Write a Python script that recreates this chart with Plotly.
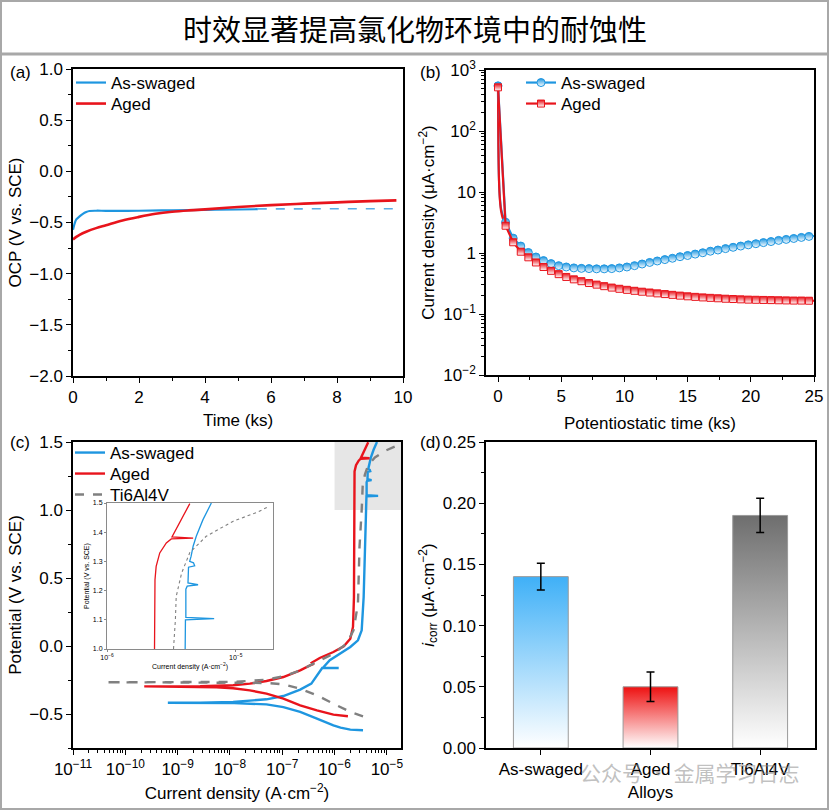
import plotly.graph_objects as go

FONT = "Arial, Liberation Sans, sans-serif"
BLUE = "#1e96e0"
BLUE_L = "#5aaee6"
RED = "#e8141c"
GRAY = "#808080"

# ---------------- (a) OCP ----------------
ocp_sw_time = [0, 0.05, 0.1, 0.2, 0.3, 0.4, 0.5, 0.7, 1.0, 2.0, 3.0, 4.0, 5.0, 5.6]
ocp_sw = [-0.57, -0.51, -0.47, -0.44, -0.415, -0.398, -0.388, -0.385, -0.386, -0.385,
          -0.381, -0.377, -0.373, -0.370]
ocp_sw_dash_time = [5.6, 9.8]
ocp_sw_dash = [-0.367, -0.365]
ocp_aged_time = [0, 0.1, 0.2, 0.4, 0.7, 1.0, 1.5, 2.0, 2.5, 3.0, 3.5, 4.0, 5.0, 6.0,
                 7.0, 8.0, 9.0, 9.8]
ocp_aged = [-0.665, -0.64, -0.62, -0.59, -0.555, -0.527, -0.48, -0.445, -0.415, -0.395,
            -0.382, -0.372, -0.348, -0.330, -0.316, -0.303, -0.291, -0.284]

# ---------------- (b) potentiostatic ----------------
pt_time = [0, 0.6, 1.2, 1.8, 2.4, 3.0, 3.6, 4.2, 4.8, 5.4, 6.0, 6.6, 7.2, 7.8, 8.4, 9.0,
           9.6, 10.2, 10.8, 11.4, 12.0, 12.6, 13.2, 13.8, 14.4, 15.0, 15.6, 16.2, 16.8,
           17.4, 18.0, 18.6, 19.2, 19.8, 20.4, 21.0, 21.6, 22.2, 22.8, 23.4, 24.0, 24.6]
pt_sw = [550, 3.2, 1.75, 1.3, 1.02, 0.86, 0.75, 0.67, 0.62, 0.59, 0.57, 0.56, 0.555, 0.55,
         0.55, 0.555, 0.57, 0.59, 0.62, 0.66, 0.70, 0.74, 0.78, 0.82, 0.87, 0.91, 0.96,
         1.01, 1.07, 1.12, 1.18, 1.24, 1.30, 1.36, 1.42, 1.48, 1.54, 1.61, 1.67, 1.73,
         1.80, 1.87]
pt_aged = [520, 2.8, 1.5, 1.05, 0.85, 0.70, 0.59, 0.51, 0.45, 0.405, 0.37, 0.345, 0.322,
           0.303, 0.286, 0.271, 0.259, 0.249, 0.240, 0.232, 0.225, 0.218, 0.212, 0.206,
           0.200, 0.195, 0.191, 0.187, 0.184, 0.181, 0.178, 0.176, 0.174, 0.172, 0.171,
           0.170, 0.169, 0.168, 0.167, 0.166, 0.166, 0.165]
pt_early_time = [0, 0.03, 0.08, 0.15, 0.25, 0.4, 0.6]
pt_early_sw = [550, 60, 16, 8, 5.2, 4.0, 3.2]
pt_early_aged = [520, 55, 15, 7.5, 4.8, 3.6, 2.8]
pt_end_time = [24.6, 25.0]
pt_end_sw = [1.87, 1.90]
pt_end_aged = [0.165, 0.165]

# ---------------- (c) polarization ----------------
pol_sw_E = [-0.620, -0.615, -0.600, -0.583, -0.534, -0.485, -0.449, -0.429, -0.420, -0.418,
            -0.417, -0.416, -0.412, -0.392, -0.368, -0.321, -0.277, -0.216, -0.162, -0.162,
            -0.160, -0.105, -0.056, -0.007, 0.042, 0.115, 0.36, 0.80, 1.0, 1.100, 1.104,
            1.108, 1.205, 1.215, 1.220, 1.226, 1.280, 1.285, 1.295, 1.300, 1.317, 1.352,
            1.386, 1.443, 1.500]
pol_sw_i = [3.5e-6, 2.0e-6, 1.3e-6, 9.5e-7, 4.6e-7, 2.2e-7, 1.05e-7, 5.0e-8, 1.2e-8, 2.7e-9,
            6.5e-10, 2.7e-9, 1.15e-8, 5.0e-8, 1.05e-7, 2.2e-7, 3.6e-7, 4.6e-7, 5.8e-7, 1.2e-6,
            6.0e-7, 8.1e-7, 1.26e-6, 2.0e-6, 2.8e-6, 3.3e-6, 3.6e-6, 3.85e-6, 4.05e-6, 4.07e-6,
            6.8e-6, 4.1e-6, 4.1e-6, 4.2e-6, 5.1e-6, 4.26e-6, 4.3e-6, 4.8e-6, 4.7e-6, 4.39e-6,
            4.5e-6, 4.67e-6, 4.94e-6, 5.57e-6, 6.47e-6]
pol_aged_E = [-0.517, -0.505, -0.473, -0.436, -0.387, -0.350, -0.326, -0.311, -0.304, -0.299,
              -0.297, -0.296, -0.289, -0.277, -0.257, -0.228, -0.179, -0.142, -0.132, -0.122,
              -0.088, -0.044, -0.002, 0.054, 0.14, 0.36, 0.85, 1.0, 1.237, 1.283, 1.329,
              1.363, 1.377, 1.380, 1.384, 1.498]
pol_aged_i = [1.8e-6, 9.5e-7, 4.6e-7, 2.2e-7, 1.05e-7, 5.0e-8, 2.4e-8, 1.15e-8, 5.5e-9, 1.3e-9,
              2.3e-10, 2.7e-9, 1.15e-8, 2.4e-8, 5.0e-8, 1.05e-7, 2.2e-7, 3.4e-7, 4.0e-7, 3.7e-7,
              5.2e-7, 9.5e-7, 1.5e-6, 2.0e-6, 2.25e-6, 2.35e-6, 2.38e-6, 2.34e-6, 2.36e-6,
              2.41e-6, 2.57e-6, 2.89e-6, 3.16e-6, 4.67e-6, 3.2e-6, 4.4e-6]
pol_ti_E = [-0.517, -0.485, -0.424, -0.363, -0.314, -0.282, -0.272, -0.269, -0.268, -0.267,
            -0.266, -0.264, -0.248, -0.223, -0.179, -0.118, -0.056, 0.017, 0.115, 0.31, 0.73,
            1.0, 1.10, 1.18, 1.26, 1.33, 1.386, 1.437, 1.47, 1.488]
pol_ti_i = [3.5e-6, 2.0e-6, 9.5e-7, 4.6e-7, 2.2e-7, 1.05e-7, 5.0e-8, 1.15e-8, 1.0e-9, 4.1e-11,
            1.0e-9, 1.15e-8, 5.0e-8, 1.05e-7, 2.2e-7, 4.6e-7, 9.5e-7, 1.7e-6, 2.3e-6, 2.8e-6,
            3.0e-6, 3.3e-6, 3.4e-6, 3.45e-6, 3.8e-6, 4.4e-6, 5.9e-6, 9.5e-6, 1.5e-5, 1.8e-5]

# ---------------- (d) icorr ----------------
alloys = ["As-swaged", "Aged", "Ti6Al4V"]
icorr = [0.14, 0.05, 0.19]
icorr_err = [0.011, 0.012, 0.014]
bar_colors = ["#3fb0f7", "#ee1111", "#6e6e6e"]

fig = go.Figure()

# (a)
fig.add_trace(go.Scatter(x=ocp_sw_time, y=ocp_sw, mode="lines", name="As-swaged",
                         line=dict(color=BLUE, width=2.2, shape="spline"),
                         xaxis="x", yaxis="y", legend="legend"))
fig.add_trace(go.Scatter(x=ocp_sw_dash_time, y=ocp_sw_dash, mode="lines", showlegend=False,
                         line=dict(color=BLUE_L, width=1.6, dash="dash"),
                         xaxis="x", yaxis="y"))
fig.add_trace(go.Scatter(x=ocp_aged_time, y=ocp_aged, mode="lines", name="Aged",
                         line=dict(color=RED, width=2.6, shape="spline"),
                         xaxis="x", yaxis="y", legend="legend4"))

# (b)
for et, ev, col in [(pt_early_time, pt_early_sw, BLUE), (pt_early_time, pt_early_aged, RED),
                    (pt_end_time, pt_end_sw, BLUE), (pt_end_time, pt_end_aged, RED)]:
    fig.add_trace(go.Scatter(x=et, y=ev, mode="lines", showlegend=False,
                             line=dict(color=col, width=2.2, shape="spline"),
                             xaxis="x2", yaxis="y2"))
fig.add_trace(go.Scatter(x=pt_time, y=pt_sw, mode="lines+markers", name="As-swaged",
                         line=dict(color=BLUE, width=2.2),
                         marker=dict(symbol="circle", size=8, color=BLUE,
                                     line=dict(color=BLUE, width=1),
                                     gradient=dict(type="vertical", color="white")),
                         xaxis="x2", yaxis="y2", legend="legend2"))
fig.add_trace(go.Scatter(x=pt_time, y=pt_aged, mode="lines+markers", name="Aged",
                         line=dict(color=RED, width=2.2),
                         marker=dict(symbol="square", size=7, color=RED,
                                     line=dict(color=RED, width=1),
                                     gradient=dict(type="vertical", color="white")),
                         xaxis="x2", yaxis="y2", legend="legend5"))

# (c) main
fig.add_trace(go.Scatter(x=pol_sw_i, y=pol_sw_E, mode="lines", name="As-swaged",
                         line=dict(color=BLUE, width=2.4), xaxis="x3", yaxis="y3",
                         legend="legend3"))
fig.add_trace(go.Scatter(x=pol_aged_i, y=pol_aged_E, mode="lines", name="Aged",
                         line=dict(color=RED, width=2.4), xaxis="x3", yaxis="y3",
                         legend="legend6"))
fig.add_trace(go.Scatter(x=pol_ti_i, y=pol_ti_E, mode="lines", name="Ti6Al4V",
                         line=dict(color=GRAY, width=2.4, dash="dash"), xaxis="x3",
                         yaxis="y3", legend="legend7"))
# (c) inset
fig.add_trace(go.Scatter(x=pol_sw_i, y=pol_sw_E, mode="lines", showlegend=False,
                         line=dict(color=BLUE, width=1.3), xaxis="x5", yaxis="y5"))
fig.add_trace(go.Scatter(x=pol_aged_i, y=pol_aged_E, mode="lines", showlegend=False,
                         line=dict(color=RED, width=1.3), xaxis="x5", yaxis="y5"))
fig.add_trace(go.Scatter(x=pol_ti_i, y=pol_ti_E, mode="lines", showlegend=False,
                         line=dict(color=GRAY, width=1.1, dash="dot"), xaxis="x5",
                         yaxis="y5"))

# (d) bars with vertical gradient
half = 0.25
for k, (name, v, col) in enumerate(zip(alloys, icorr, bar_colors)):
    fig.add_trace(go.Scatter(x=[k - half, k - half, k + half, k + half, k - half],
                             y=[0, v, v, 0, 0], mode="lines", fill="toself",
                             fillgradient=dict(type="vertical",
                                               colorscale=[[0, "white"], [1, col]]),
                             line=dict(color="#9a9a9a", width=1), showlegend=False,
                             xaxis="x4", yaxis="y4"))
fig.add_trace(go.Scatter(x=list(range(len(alloys))), y=icorr, mode="markers",
                         marker=dict(size=1, color="rgba(0,0,0,0)"), showlegend=False,
                         error_y=dict(type="data", array=icorr_err, color="black",
                                      thickness=1.5, width=4),
                         xaxis="x4", yaxis="y4"))

W, H = 829, 810


def dx(a, b):
    return [a / W, b / W]


def dy(top, bottom):
    return [1 - bottom / H, 1 - top / H]


def axis(**kw):
    base = dict(showline=True, linecolor="black", linewidth=1.5, mirror=True,
                ticks="outside", ticklen=5, tickwidth=1.2, tickcolor="black",
                showgrid=False, zeroline=False, automargin=False,
                tickfont=dict(size=17, family=FONT, color="black"))
    base.update(kw)
    return base


def ttl(text, standoff, size=17):
    return dict(text=text, standoff=standoff, font=dict(size=size, family=FONT, color="black"))


def legend_at(x_px, y_px):
    return dict(x=x_px / W, y=1 - y_px / H, xanchor="left", yanchor="middle",
                bgcolor="rgba(0,0,0,0)", borderwidth=0,
                font=dict(size=17, family=FONT, color="black"))


minor_lin = lambda d: dict(dtick=d, ticks="outside", ticklen=3, tickwidth=1, tickcolor="black",
                           showgrid=False)
minor_b = [k * 10.0 ** e for e in range(-2, 3) for k in range(2, 10)]
minor_c = [k * 10.0 ** e for e in range(-11, -4) for k in range(2, 10)]
sup = lambda e: "10<sup>" + ("\u2212" if e < 0 else "") + str(abs(e)) + "</sup>"

fig.update_layout(
    template="none",
    width=W, height=H, margin=dict(l=0, r=0, t=0, b=0, autoexpand=False),
    paper_bgcolor="white", plot_bgcolor="white",
    font=dict(family=FONT, size=17, color="black"),
    xaxis=axis(domain=dx(73, 403), anchor="y", range=[0, 10], dtick=2, tick0=0,
               minor=minor_lin(1), title=ttl("Time (ks)", 8)),
    yaxis=axis(domain=dy(69, 376), anchor="x", range=[-2, 1], dtick=0.5, tick0=0,
               tickformat=".1f", minor=minor_lin(0.25), title=ttl("OCP (V vs. SCE)", 3)),
    xaxis2=axis(domain=dx(486, 814), anchor="y2", range=[-0.95, 25], dtick=5, tick0=0,
                minor=minor_lin(2.5), title=ttl("Potentiostatic time (ks)", 12)),
    yaxis2=axis(domain=dy(70, 375), anchor="x2", type="log", range=[-2, 3],
                tickvals=[0.01, 0.1, 1, 10, 100, 1000],
                ticktext=[sup(-2), sup(-1), "1", "10", sup(2), sup(3)],
                minor=dict(tickvals=minor_b, ticks="outside", ticklen=3, tickwidth=1,
                           tickcolor="black"),
                title=ttl("Current density (\u03bcA\u00b7cm<sup>\u22122</sup>)", 4)),
    xaxis3=axis(domain=dx(73, 401), anchor="y3", type="log", range=[-11, -4.73],
                tickvals=[10.0 ** e for e in range(-11, -4)],
                ticktext=[sup(e) for e in range(-11, -4)],
                minor=dict(tickvals=minor_c, ticks="outside", ticklen=3, tickwidth=1,
                           tickcolor="black"),
                title=ttl("Current density (A\u00b7cm<sup>\u22122</sup>)", 9)),
    yaxis3=axis(domain=dy(442, 748), anchor="x3", range=[-0.75, 1.5],
                tickvals=[-0.5, 0, 0.5, 1.0, 1.5], tickformat=".1f", minor=minor_lin(0.25),
                title=ttl("Potential (V vs. SCE)", 3)),
    xaxis4=axis(domain=dx(486, 815), anchor="y4", range=[-0.5, 2.5], tickvals=[0, 1, 2],
                ticktext=alloys, title=ttl("Alloys", 8)),
    yaxis4=axis(domain=dy(442, 748), anchor="x4", range=[0, 0.25], dtick=0.05, tick0=0,
                tickformat=".2f", minor=minor_lin(0.025),
                title=ttl("<i>i</i><sub>corr</sub> (\u03bcA\u00b7cm<sup>\u22122</sup>)", 4)),
    xaxis5=axis(domain=dx(107, 273), anchor="y5", type="log", range=[-6, -4.71],
                linecolor="#8a8a8a", linewidth=1, ticklen=2, tickwidth=0.8,
                tickcolor="#8a8a8a", tickvals=[1e-6, 1e-5], ticktext=[sup(-6), sup(-5)],
                tickfont=dict(size=7, family=FONT, color="black"),
                title=ttl("Current density (A\u00b7cm<sup>\u22122</sup>)", 3, 7)),
    yaxis5=axis(domain=dy(503, 649), anchor="x5", range=[1.0, 1.5], dtick=0.1, tick0=1.0,
                tickformat=".1f", linecolor="#8a8a8a", linewidth=1, ticklen=2,
                tickwidth=0.8, tickcolor="#8a8a8a",
                tickfont=dict(size=7, family=FONT, color="black"),
                title=ttl("Potential (V vs. SCE)", 2, 7)),
    legend=legend_at(71, 83),
    legend4=legend_at(71, 104),
    legend2=legend_at(521, 83),
    legend5=legend_at(521, 104),
    legend3=legend_at(70, 453),
    legend6=legend_at(70, 474),
    legend7=legend_at(70, 495),
)

# shapes: outer frame, title separator, zoom box in (c)
fig.add_shape(type="rect", xref="paper", yref="paper", x0=0, y0=0, x1=1, y1=1,
              line=dict(color="#a8a8a8", width=4), layer="above")
fig.add_shape(type="line", xref="paper", yref="paper", x0=0, x1=1, y0=1 - 54 / H,
              y1=1 - 54 / H, line=dict(color="#a8a8a8", width=3))
fig.add_shape(type="rect", xref="x3 domain", yref="y3", x0=5 / 6.27, x1=1, y0=1.0, y1=1.5,
              fillcolor="rgba(200,200,200,0.45)", line=dict(width=0), layer="below")

# annotations
ann = [
    dict(text="时效显著提高氯化物环境中的耐蚀性", x=0.5, y=1 - 28 / H, xref="paper",
         yref="paper", showarrow=False, xanchor="center", yanchor="middle",
         font=dict(family="Noto Sans CJK SC", size=29, color="black")),
    dict(text="(a)", x=8 / W, y=1 - 72 / H),
    dict(text="(b)", x=418 / W, y=1 - 72 / H),
    dict(text="(c)", x=8 / W, y=1 - 442 / H),
    dict(text="(d)", x=418 / W, y=1 - 442 / H),
    dict(text="公众号 · 金属学习日志", x=578 / W, y=1 - 772 / H, xanchor="left",
         yanchor="middle", font=dict(family="Noto Sans CJK SC", size=21,
                                     color="rgba(140,140,140,0.55)")),
]
for a in ann:
    a.setdefault("xref", "paper")
    a.setdefault("yref", "paper")
    a.setdefault("showarrow", False)
    a.setdefault("xanchor", "left")
    a.setdefault("yanchor", "middle")
    a.setdefault("font", dict(family=FONT, size=17, color="black"))
    fig.add_annotation(**a)

fig.write_html("out.html", config={"displayModeBar": False},
               post_script="document.body.style.margin='0';"
                           "document.body.style.overflow='hidden';")
